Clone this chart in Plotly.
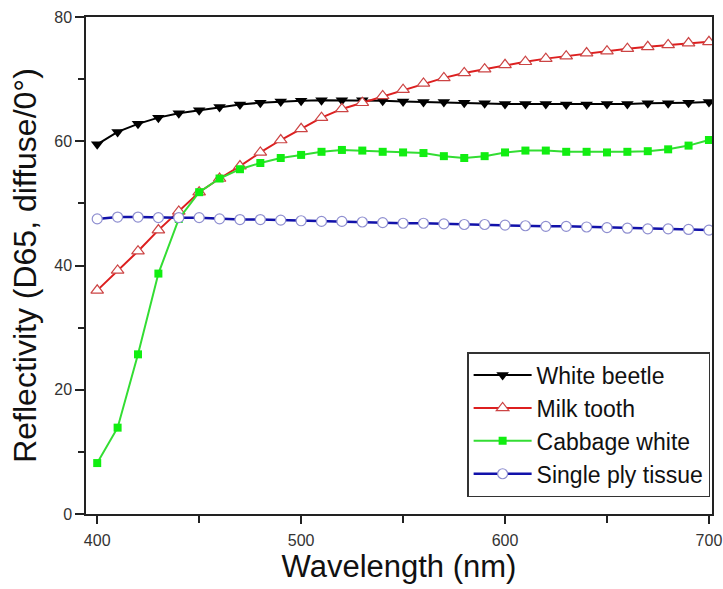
import plotly.graph_objects as go

wavelength = list(range(400, 701, 10))

white_beetle = [59.5, 61.5, 62.8, 63.8, 64.5, 65.0, 65.5, 65.9, 66.2, 66.4, 66.5,
                66.6, 66.6, 66.6, 66.5, 66.4, 66.3, 66.3, 66.2, 66.1, 66.0,
                66.0, 66.0, 65.9, 65.9, 66.0, 66.0, 66.1, 66.1, 66.2, 66.3]

milk_tooth = [36.0, 39.2, 42.3, 45.7, 48.7, 51.8, 54.0, 56.0, 58.2, 60.2, 62.0,
              63.8, 65.2, 66.2, 67.3, 68.3, 69.3, 70.2, 71.0, 71.6, 72.3,
              72.8, 73.3, 73.7, 74.2, 74.5, 74.9, 75.2, 75.5, 75.8, 76.0]

cabbage_white = [8.2, 13.9, 25.7, 38.7, 47.5, 51.8, 54.0, 55.5, 56.5, 57.3, 57.8,
                 58.3, 58.6, 58.5, 58.3, 58.2, 58.1, 57.6, 57.3, 57.6, 58.2,
                 58.5, 58.5, 58.3, 58.3, 58.2, 58.3, 58.4, 58.7, 59.3, 60.2]

single_ply_tissue = [47.5, 47.8, 47.8, 47.7, 47.7, 47.7, 47.5, 47.4, 47.4, 47.3, 47.2,
                     47.1, 47.1, 47.0, 46.9, 46.8, 46.8, 46.7, 46.6, 46.6, 46.5,
                     46.4, 46.3, 46.3, 46.2, 46.1, 46.0, 45.9, 45.9, 45.8, 45.7]

x_ticks = [400, 500, 600, 700]
y_ticks = [0, 20, 40, 60, 80]

fig = go.Figure()
fig.add_trace(go.Scatter(
    x=wavelength, y=white_beetle, name="White beetle", mode="lines+markers",
    line=dict(color="black", width=2),
    marker=dict(symbol="triangle-down", size=11, color="black"),
))
fig.add_trace(go.Scatter(
    x=wavelength, y=milk_tooth, name="Milk tooth", mode="lines+markers",
    line=dict(color="#dd1f1f", width=2),
    marker=dict(symbol="triangle-up", size=11, color="white",
                line=dict(color="#cc4444", width=1.2)),
))
fig.add_trace(go.Scatter(
    x=wavelength, y=cabbage_white, name="Cabbage white", mode="lines+markers",
    line=dict(color="#33dd33", width=2),
    marker=dict(symbol="square", size=8, color="#11ee11"),
))
fig.add_trace(go.Scatter(
    x=wavelength, y=single_ply_tissue, name="Single ply tissue", mode="lines+markers",
    line=dict(color="#1111aa", width=2.5),
    marker=dict(symbol="circle", size=10, color="white",
                line=dict(color="#8f8fd0", width=1.2)),
))

tick_font = dict(family="Liberation Sans, Arial, sans-serif", size=16, color="#333333")

fig.update_layout(
    width=723, height=589,
    margin=dict(l=86, r=11, t=17, b=75),
    paper_bgcolor="white", plot_bgcolor="white",
    font=dict(family="Liberation Sans, Arial, sans-serif", color="#222222"),
    legend=dict(
        x=0.997, y=0.034, xanchor="right", yanchor="bottom",
        bgcolor="white", bordercolor="#333333", borderwidth=1.5,
        font=dict(size=23, color="#111111"),
        itemwidth=58, tracegroupgap=0,
    ),
    xaxis=dict(
        range=[394.5, 701.5], tickvals=x_ticks, ticks="outside", ticklen=8,
        tickwidth=1.5, tickcolor="#222222", ticklabeloverflow="allow",
        ticklabelstandoff=3,
        minor=dict(dtick=50, tick0=400, ticks="outside", ticklen=7, tickcolor="#222222", tickwidth=1.5),
        showline=True, linecolor="#222222", linewidth=1.5, mirror=True,
        showgrid=False, zeroline=False, automargin=False,
        tickfont=tick_font,
        title=dict(text="Wavelength (nm)", font=dict(size=31, color="#111111"), standoff=4),
    ),
    yaxis=dict(
        range=[0, 80], tickvals=y_ticks, ticks="outside", ticklen=9,
        tickwidth=1.5, tickcolor="#222222", ticklabeloverflow="allow",
        ticklabelstandoff=0,
        minor=dict(dtick=10, tick0=0, ticks="outside", ticklen=6, tickcolor="#222222", tickwidth=1.5),
        showline=True, linecolor="#222222", linewidth=1.5, mirror=True,
        showgrid=False, zeroline=False, automargin=False,
        tickfont=tick_font,
        title=dict(text="Reflectivity (D65, diffuse/0°)", font=dict(size=32, color="#111111"), standoff=8),
    ),
)

fig.write_html("out.html", config={"displayModeBar": False},
               post_script="document.body.style.margin='0';document.body.style.overflow='hidden';")
